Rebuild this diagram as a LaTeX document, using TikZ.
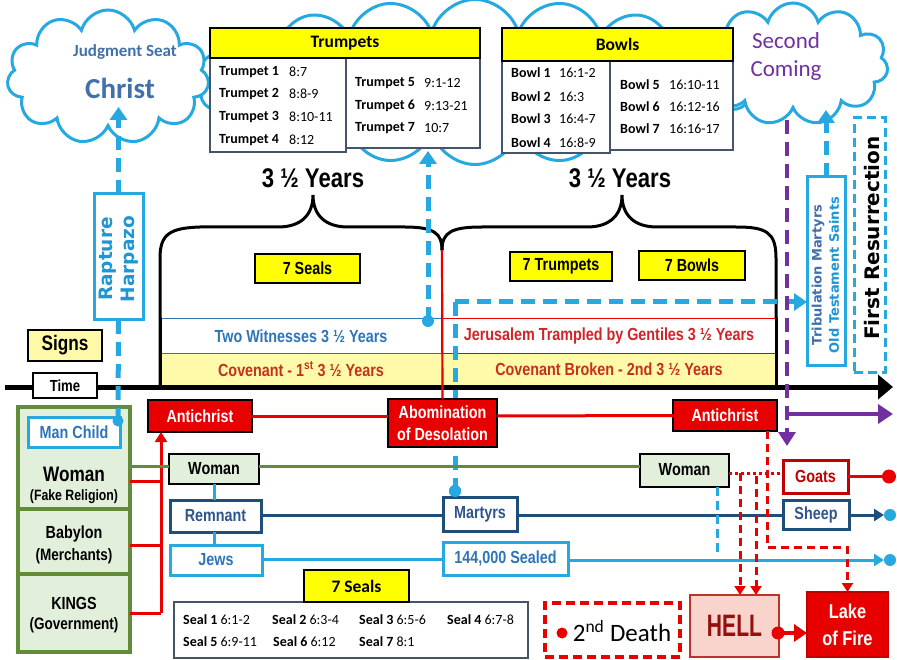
\documentclass[tikz,border=0pt]{standalone}
\usepackage{fontspec}
\setmainfont{Carlito}
\newfontfamily\nf[FakeStretch=0.82]{Liberation Sans}
\newfontfamily\vf{DejaVu Sans}
\newfontfamily\hf[FakeStretch=0.68]{Liberation Sans}
\usetikzlibrary{shapes.symbols,arrows.meta,calc}
\definecolor{cyanC}{RGB}{38,168,224}
\definecolor{cyanD}{RGB}{30,150,214}
\definecolor{steel}{RGB}{66,112,170}
\definecolor{tblue}{RGB}{46,117,182}
\definecolor{dblue}{RGB}{31,78,121}
\definecolor{rblue}{RGB}{47,85,140}
\definecolor{slate}{RGB}{68,84,106}
\definecolor{redC}{RGB}{232,0,0}
\definecolor{dred}{RGB}{192,0,0}
\definecolor{covred}{RGB}{196,50,30}
\definecolor{jerred}{RGB}{210,35,40}
\definecolor{purpleC}{RGB}{112,48,160}
\definecolor{greenB}{RGB}{98,140,58}
\definecolor{greenF}{RGB}{226,239,218}
\definecolor{yellowC}{RGB}{255,255,0}
\definecolor{lyellow}{RGB}{255,250,170}
\definecolor{pinkF}{RGB}{248,212,204}
\definecolor{hellB}{RGB}{190,50,40}
\definecolor{hellR}{RGB}{150,15,15}
\tikzset{
  nb/.style={font=\nf\bfseries\fontsize{17.5}{21}\selectfont},
  box/.style={inner sep=0pt, outer sep=0pt, align=center},
  cloudS/.style={cloud, draw=cyanC, line width=3pt, fill=white, inner sep=0pt},
  tbody/.style={draw=slate, line width=1.5pt, fill=white, inner sep=0pt},
  hdr/.style={draw=black, line width=1.8pt, fill=yellowC, inner sep=0pt, font=\bfseries\fontsize{17.5}{20}\selectfont},
  tt/.style={anchor=west, inner sep=0pt, font=\fontsize{14}{16}\selectfont},
  ylab/.style={box, draw=black, line width=2pt, fill=yellowC, nb},
  cydash/.style={draw=cyanC, line width=5pt, dash pattern=on 14pt off 8pt},
  cytip/.style={-{Triangle[length=13pt,width=17pt]}},
  redl/.style={draw=redC, line width=3pt},
  reddash/.style={draw=redC, line width=3pt, dash pattern=on 8pt off 5pt},
  redtip/.style={-{Triangle[length=9pt,width=11pt]}},
  purdash/.style={draw=purpleC, line width=4pt, dash pattern=on 14pt off 8pt},
  gsec/.style={box, draw=greenB, line width=3.5pt, fill=greenF, minimum width=112pt},
  bracep/.style={draw=black, line width=3pt, line cap=round},
}
\begin{document}
\begin{tikzpicture}[x=1pt,y=-1pt]
\useasboundingbox (0,0) rectangle (897,660);
\fill[white] (0,0) rectangle (897,660);

% clouds
\node[cloudS, cloud puffs=20, aspect=3.4, minimum width=560pt, minimum height=165pt] (ctop) at (475,82) {};
\node[cloudS, cloud puffs=11, aspect=1.5, minimum width=202pt, minimum height=134pt] (cleft) at (108,77) {};
\node[cloudS, cloud puffs=11, aspect=1.6, minimum width=190pt, minimum height=122pt] (cright) at (793,64) {};

% trumpets table
\node[tbody, minimum width=136pt, minimum height=94pt] (tlb) at (278,105) {};
\node[tbody, minimum width=134pt, minimum height=90pt] (trb) at (413,103) {};
\node[hdr, minimum width=270pt, minimum height=30pt] (thd) at (345,43) {Trumpets};
\foreach \i/\y/\v in {1/72/8:7,2/94/8:8-9,3/117/8:10-11,4/140/8:12}{
  \node[tt] (tn\i) at (219,\y) {\bfseries Trumpet \i};
  \node[tt] (tv\i) at (289,\y) {\v};}
\foreach \i/\y/\v in {5/83/9:1-12,6/106/9:13-21,7/128/10:7}{
  \node[tt] (tn\i) at (355,\y) {\bfseries Trumpet \i};
  \node[tt] (tv\i) at (424,\y) {\v};}

% bowls table
\node[tbody, minimum width=108pt, minimum height=92pt] (blb) at (556,107) {};
\node[tbody, minimum width=123pt, minimum height=89pt] (brb) at (671.5,105.5) {};
\node[hdr, minimum width=231pt, minimum height=33pt] (bhd) at (617.5,44.5) {Bowls};
\foreach \i/\y/\v in {1/73/16:1-2,2/97/16:3,3/119/16:4-7,4/143/16:8-9}{
  \node[tt] (bn\i) at (511,\y) {\bfseries Bowl \i};
  \node[tt] (bv\i) at (559,\y) {\v};}
\foreach \i/\y/\v in {5/85/16:10-11,6/107/16:12-16,7/129/16:16-17}{
  \node[tt] (bn\i) at (620,\y) {\bfseries Bowl \i};
  \node[tt] (bv\i) at (669,\y) {\v};}

% cloud texts
\node[font=\bfseries\fontsize{17}{20}\selectfont, text=steel] (js) at (125,52) {Judgment Seat};
\node[font=\bfseries\fontsize{29}{32}\selectfont, text=steel] (chr) at (120,88) {Christ};
\node[font=\fontsize{23}{28}\selectfont, text=purpleC, align=center] (sc) at (786,56) {Second\\Coming};

% braces
\coordinate (jct) at (442,250);
\draw[bracep] (160,385) -- (160,258) .. controls (160,234) and (170,228) .. (200,227) -- (278,227) .. controls (301,227) and (313,215) .. (313,195) .. controls (313,215) and (325,227) .. (348,227) -- (405,227) .. controls (435,227) and (442,234) .. (jct);
\draw[bracep] (jct) .. controls (442,232) and (452,227) .. (482,227) -- (587,227) .. controls (610,227) and (622,215) .. (622,195) .. controls (622,215) and (634,227) .. (657,227) -- (736,227) .. controls (766,227) and (776,232) .. (776,258) -- (776,385);
\node[font=\nf\bfseries\fontsize{27}{30}\selectfont] (y1) at (313,178) {3 ½ Years};
\node[font=\nf\bfseries\fontsize{27}{30}\selectfont] (y2) at (620,178) {3 ½ Years};
\node[ylab, minimum width=105pt, minimum height=29pt] (s7a) at (307.5,268.5) {7 Seals};
\node[ylab, minimum width=102pt, minimum height=29pt] (t7) at (561,266.5) {7 Trumpets};
\node[ylab, minimum width=106pt, minimum height=29pt] (b7) at (692,265.5) {7 Bowls};

% bands
\node[box, fill=lyellow, minimum width=282pt, minimum height=32pt, nb, text=covred] (cov1) at (301,369) {Covenant - 1\textsuperscript{st} 3 ½ Years};
\node[box, draw=tblue, line width=1.5pt, fill=white, minimum width=282pt, minimum height=35pt, nb, text=tblue] (tw) at (301,336) {Two Witnesses 3 ½ Years};
\node[box, fill=lyellow, minimum width=334pt, minimum height=32pt, nb, text=covred] (cov2) at (609,369) {Covenant Broken - 2nd 3 ½ Years};
\node[box, draw=redC, line width=1.5pt, fill=white, minimum width=334pt, minimum height=35pt, nb, text=jerred] (jer) at (609,336) {Jerusalem Trampled by Gentiles 3 ½ Years};
\draw[bracep] (160,318) -- (160,385);
\draw[bracep] (776,318) -- (776,385);

% time axis
\coordinate (ax0) at (5,387);
\coordinate (ax1) at (893,387);
\draw[line width=5pt, -{Triangle[length=15pt,width=24pt]}] (ax0) -- (ax1);
\node[box, draw=black, line width=2pt, fill=white, minimum width=64pt, minimum height=25pt, font=\nf\bfseries\fontsize{16}{18}\selectfont] (time) at (65,385.5) {Time};
\node[box, draw=black, line width=2pt, fill=lyellow, minimum width=74pt, minimum height=31pt, font=\nf\bfseries\fontsize{21}{24}\selectfont] (signs) at (65,345.5) {Signs};

% right side boxes
\node[box, draw=cyanC, line width=3pt, fill=white, minimum width=38pt, minimum height=188pt] (trib) at (826,271) {};
\node[rotate=90, font=\vf\bfseries\fontsize{13}{15}\selectfont, text=steel] (tribt) at (818,275) {Tribulation Martyrs};
\node[rotate=90, font=\vf\bfseries\fontsize{13}{15}\selectfont, text=cyanD] (ots) at (834,275) {Old Testament Saints};
\node[box, draw=cyanC, line width=3pt, dash pattern=on 9pt off 5pt, minimum width=31pt, minimum height=254pt] (fr) at (869.5,245) {};
\node[rotate=90, font=\vf\bfseries\fontsize{20}{22}\selectfont] (frt) at (872,238) {First Resurrection};
\coordinate (tribtip) at (826,110);
\draw[cydash, cytip] (trib.north) -- (tribtip);

% rapture
\node[box, draw=cyanC, line width=3pt, fill=white, minimum width=49pt, minimum height=126pt] (rap) at (118.5,257) {};
\node[rotate=90, font=\vf\bfseries\fontsize{18.5}{20}\selectfont, text=cyanD] (rapt) at (108,259) {Rapture};
\node[rotate=90, font=\vf\bfseries\fontsize{18.5}{20}\selectfont, text=cyanD] (harp) at (130,259) {Harpazo};
\coordinate (jstip) at (118.5,107);
\draw[cydash, cytip] (rap.north) -- (jstip);

% left green column
\node[gsec, minimum height=102pt] (wsec) at (74,458) {};
\node[gsec, minimum height=65pt] (bsec) at (74,541.5) {};
\node[gsec, minimum height=78pt] (ksec) at (74,613) {};
\node[font=\nf\bfseries\fontsize{21}{24}\selectfont] (wt) at (74,474) {Woman};
\node[font=\nf\bfseries\fontsize{15}{18}\selectfont] (wft) at (74,497) {(Fake Religion)};
\node[nb] (bt) at (74,534) {Babylon};
\node[font=\nf\bfseries\fontsize{16.5}{18}\selectfont] (bmt) at (74,556) {(Merchants)};
\node[nb] (kt) at (74,603) {KINGS};
\node[font=\nf\bfseries\fontsize{16.5}{18}\selectfont] (kgt) at (74,625) {(Government)};
\node[box, draw=cyanC, line width=3pt, fill=white, minimum width=92pt, minimum height=30pt, nb, text=tblue] (mc) at (74,432) {Man Child};
\coordinate (mcdot) at (118,421);
\draw[cydash] (rap.south) -- (mcdot);
\fill[cyanC] (mcdot) circle (5.5);

% cyan dashed from mid timeline
\coordinate (cvtop) at (455,302);
\coordinate (mdot) at (455,491);
\draw[cydash] (cvtop) -- (mdot);
\fill[cyanC] (mdot) circle (6);
\draw[cydash, cytip] (cvtop) -- (trib.west |- cvtop);
\coordinate (twdot) at (428,321);
\coordinate (twtip) at (428,151);
\draw[cydash, cytip] (twdot) -- (twtip);
\fill[cyanC] (twdot) circle (6);

% purple
\coordinate (pv0) at (787,120);
\coordinate (pv1) at (787,446);
\coordinate (ph0) at (787,414);
\coordinate (ph1) at (893,414);
\draw[purdash, -{Triangle[length=14pt,width=17pt]}] (pv0) -- (pv1);
\draw[draw=purpleC, line width=4pt, -{Triangle[length=15pt,width=19pt]}] (ph0) -- (ph1);

% antichrist line
\node[box, draw=black, line width=1.8pt, fill=redC, minimum width=104pt, minimum height=32pt, nb, text=white] (ac1) at (200,416) {Antichrist};
\node[box, draw=black, line width=1.8pt, fill=redC, minimum width=109pt, minimum height=48pt, font=\nf\bfseries\fontsize{17.5}{22}\selectfont, text=white] (abom) at (442.5,423) {Abomination\\of Desolation};
\node[box, draw=black, line width=1.8pt, fill=redC, minimum width=104pt, minimum height=31pt, nb, text=white] (ac2) at (725,415.5) {Antichrist};
\draw[redl] (ac1.east) -- (ac1.east -| abom.west);
\draw[redl] (abom.east |- ac1.east) -- (ac2.west);
\draw[draw=redC, line width=2.2pt] (jct) -- (abom.north);

% red connectors from left column
\coordinate (rv) at (161,613);
\draw[redl] (wsec.east |- 0,481) -- (rv |- 0,481);
\draw[redl] (bsec.east |- 0,545) -- (rv |- 0,545);
\draw[redl] (ksec.east) -- (rv);
\draw[redl, -{Triangle[length=10pt,width=12pt]}] (rv) -- (rv |- ac1.south);

% middle rows
\node[box, draw=black, line width=2pt, fill=greenF, minimum width=90pt, minimum height=30pt, nb] (wm2) at (214,469) {Woman};
\node[box, draw=dblue, line width=3pt, fill=white, minimum width=91pt, minimum height=32pt, nb, text=rblue] (rem) at (215.5,516) {Remnant};
\node[box, draw=cyanC, line width=3pt, fill=white, minimum width=92pt, minimum height=30pt, nb, text=tblue] (jews) at (216,560) {Jews};
\draw[draw=cyanC, line width=3pt] (wm2.south -| 214,0) -- (rem.north -| 214,0);
\draw[draw=cyanC, line width=3pt] (rem.south -| 214,0) -- (jews.north -| 214,0);
\draw[draw=greenB, line width=3pt] (wsec.east |- 0,466) -- (wm2.west |- 0,466);

\node[box, draw=dblue, line width=3pt, fill=white, minimum width=74pt, minimum height=34pt, nb, text=rblue] (mar) at (480,514) {Martyrs};
\node[box, draw=cyanC, line width=3pt, fill=white, minimum width=125pt, minimum height=33pt, nb, text=tblue] (k144) at (505.5,559) {144,000 Sealed};
\fill[cyanC] (mdot) circle (6);
\node[box, draw=black, line width=2pt, fill=greenF, minimum width=89pt, minimum height=33pt, nb] (wm3) at (684.5,470) {Woman};
\node[box, draw=dred, line width=3pt, fill=white, minimum width=65pt, minimum height=33pt, nb, text=dred] (goats) at (815.5,476.5) {Goats};
\node[box, draw=dblue, line width=3pt, fill=white, minimum width=66pt, minimum height=29pt, nb, text=rblue] (sheep) at (816,514.5) {Sheep};

\draw[draw=greenB, line width=3pt] (wm2.east |- 0,466) -- (wm3.west |- 0,466);
\draw[draw=dblue, line width=3pt] (rem.east |- 0,515) -- (mar.west |- 0,515);
\draw[draw=dblue, line width=3pt] (mar.east |- 0,515) -- (sheep.west |- 0,515);
\draw[draw=cyanC, line width=3pt] (jews.east |- 0,559) -- (k144.west |- 0,559);

\coordinate (shend) at (884,515);
\coordinate (shdot) at (890,515);
\draw[draw=dblue, line width=3pt, -{Triangle[length=10pt,width=12pt]}] (sheep.east |- shend) -- (shend);
\fill[cyanC] (shdot) circle (6);
\coordinate (jend) at (884,560);
\coordinate (jdot) at (890,560);
\draw[draw=cyanC, line width=3pt, -{Triangle[length=10pt,width=12pt]}] (k144.east |- jend) -- (jend);
\fill[cyanC] (jdot) circle (6);
\coordinate (gdot) at (889,476.5);
\draw[redl] (goats.east) -- (gdot);
\fill[redC] (gdot) circle (7);

% woman3 connections
\draw[draw=cyanC, line width=3pt, dash pattern=on 9pt off 5pt] (wm3.south -| 717,0) -- (717,555);
\draw[draw=redC, line width=3pt, dash pattern=on 3pt off 3pt] (wm3.east |- 0,473) -- (goats.west |- 0,473);

% bottom boxes
\node[box, draw=hellB, line width=2pt, fill=pinkF, minimum width=89pt, minimum height=62pt, font=\hf\bfseries\fontsize{31}{31}\selectfont, text=hellR] (hell) at (734.5,626) {HELL};
\node[box, draw=dred, line width=2pt, fill=redC, minimum width=81pt, minimum height=65pt, font=\nf\bfseries\fontsize{20}{27}\selectfont, text=white] (lof) at (847.5,624.5) {Lake\\of Fire};
\coordinate (h1) at (740,473);
\coordinate (h2) at (756,476);
\draw[reddash, redtip] (h1) -- (h1 |- hell.north);
\draw[reddash, redtip] (h2) -- (h2 |- hell.north);
\coordinate (ad) at (767,431);
\draw[reddash, redtip] (ad) -- (767,547) -| (lof.north);
\coordinate (hdot) at (778,633);
\fill[redC] (hdot) circle (6.5);
\draw[draw=redC, line width=4pt, -{Triangle[length=13pt,width=17pt]}] (hdot) -- (lof.west |- hdot);

\node[box, draw=redC, line width=3.5pt, dash pattern=on 9pt off 5pt, fill=white, minimum width=135pt, minimum height=54pt] (sd) at (612.5,630) {};
\coordinate (sddot) at (562,633);
\fill[redC] (sddot) circle (5.5);
\node[font=\fontsize{25}{28}\selectfont] (sdt) at (622,631) {2\textsuperscript{nd} Death};

% seals table
\node[tbody, minimum width=354pt, minimum height=56pt] (stab) at (351,630) {};
\node[ylab, font=\bfseries\fontsize{17.5}{20}\selectfont, minimum width=105pt, minimum height=32pt] (s7b) at (356.5,586) {7 Seals};
\foreach \n/\x/\y/\v in {1/183/620/6:1-2,2/272/620/6:3-4,3/359/620/6:5-6,4/447/620/6:7-8,5/183/642/6:9-11,6/273/642/6:12,7/359/642/8:1}{
  \node[tt] (sl\n) at (\x,\y) {\textbf{Seal \n} \v};}
\end{tikzpicture}
\end{document}
